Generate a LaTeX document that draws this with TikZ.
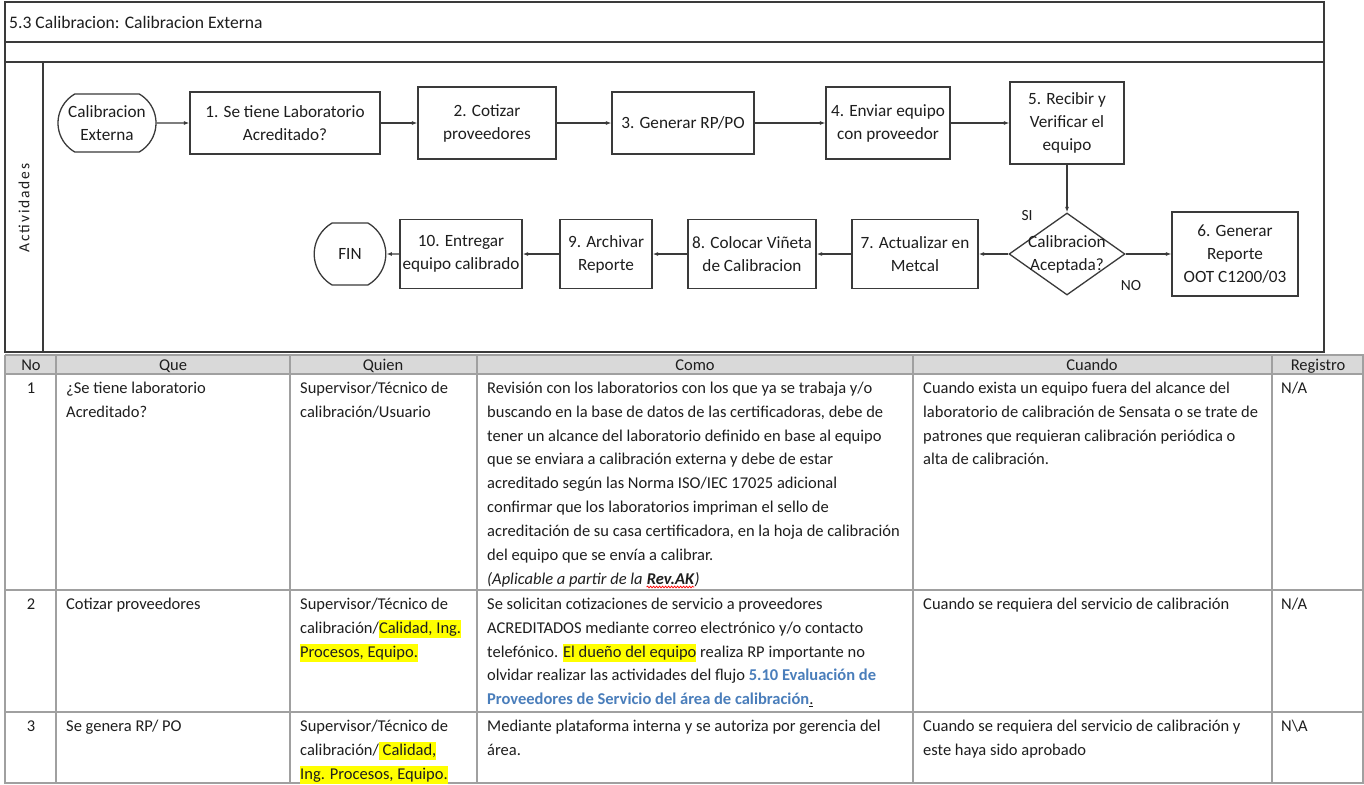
\documentclass[tikz,border=0pt]{standalone}
\usepackage{fontspec}
\setmainfont{Carlito}
\usetikzlibrary{shapes.geometric,shapes.misc,arrows.meta,decorations.pathmorphing,calc}
\definecolor{frame}{HTML}{3A3A3A}
\definecolor{gridc}{HTML}{A0A0A0}
\definecolor{head}{HTML}{D9D9D9}
\definecolor{hly}{HTML}{FFFF00}
\definecolor{linkblue}{HTML}{4A7EBB}
\definecolor{ink}{HTML}{1E1E1E}
\newcommand\tabfont{\fontsize{16.5}{23.9}\selectfont}
\newcommand\boxfont{\fontsize{17.2}{23}\selectfont}
\newcommand\fst{\rule{0pt}{13pt}}
\newcommand\hl[1]{{\setlength{\fboxsep}{0pt}\colorbox{hly}{\rule[-4.5pt]{0pt}{17.5pt}#1}}}
\begin{document}
\begin{tikzpicture}[x=1pt,y=-1pt,
  box/.style={draw=frame, line width=1.3pt, fill=white, align=center, font=\boxfont, text=ink, inner sep=2pt},
  term/.style={draw=frame, line width=1.3pt, fill=white, rounded rectangle, rounded rectangle arc length=120, inner sep=0pt},
  ttext/.style={align=center, font=\boxfont, text=ink, inner sep=0pt},
  conn/.style={draw=frame, line width=1.2pt, -{Latex[length=5.5pt,width=4pt]}},
  cell/.style={anchor=north west, inner sep=0pt, align=left, font=\tabfont, text=ink},
  cellc/.style={anchor=base, inner sep=0pt, font=\tabfont, text=ink},
  lane/.style={draw=frame, line width=2pt},
  gridl/.style={draw=gridc, line width=1.3pt}
]
\useasboundingbox (0,0) rectangle (1364,784);
\fill[white] (0,0) rectangle (1364,784);

% ---------- lane frame ----------
\draw[lane] (5,2) rectangle (1324,352);
\draw[lane] (5,42) -- (1324,42);
\draw[lane] (5,62) -- (1324,62);
\draw[lane] (43,62) -- (43,352);
\node[anchor=west, inner sep=0pt, font=\fontsize{17.6}{20}\selectfont, text=ink] (title) at (9,22) {5.3 Calibracion: Calibracion Externa};
\node[rotate=90, inner sep=0pt, font=\fontsize{15.5}{18}\selectfont\addfontfeature{LetterSpace=12}, text=ink] (act) at (24,208) {Actividades};

% ---------- flowchart ----------
\node[term, minimum width=98pt, minimum height=58pt] (start) at (107,123) {};
\node[ttext] (startt) at (start.center) {Calibracion\\Externa};
\node[box, minimum width=190pt, minimum height=62pt] (b1) at (285,123) {1. Se tiene Laboratorio\\Acreditado?};
\node[box, minimum width=138pt, minimum height=72pt] (b2) at (487,123) {2. Cotizar\\proveedores};
\node[box, minimum width=142pt, minimum height=62pt] (b3) at (683,123) {3. Generar RP/PO};
\node[box, minimum width=124pt, minimum height=72pt] (b4) at (888,123) {4. Enviar equipo\\con proveedor};
\node[box, minimum width=114pt, minimum height=82pt] (b5) at (1067,123) {5. Recibir y\\Verificar el\\equipo};
\node[diamond, draw=frame, line width=1.3pt, fill=white, minimum width=116pt, minimum height=82pt, inner sep=0pt] (d) at (1067,254) {};
\node[ttext] (dt) at (d.center) {Calibracion\\Aceptada?};
\node[box, minimum width=126pt, minimum height=84pt] (b6) at (1235,254) {6. Generar\\Reporte\\OOT C1200/03};
\node[box, minimum width=126pt, minimum height=69pt] (b7) at (915,254) {7. Actualizar en\\Metcal};
\node[box, minimum width=128pt, minimum height=69pt] (b8) at (752,254) {8. Colocar Viñeta\\de Calibracion};
\node[box, minimum width=92pt, minimum height=69pt] (b9) at (606,254) {9. Archivar\\Reporte};
\node[box, minimum width=122pt, minimum height=69pt] (b10) at (461,254) {10. Entregar\\equipo calibrado};
\node[term, minimum width=64pt, minimum height=62pt] (fin) at (350,254) {};
\node[ttext] (fint) at (fin.center) {FIN};
\node[font=\fontsize{15.5}{18}\selectfont, text=ink, inner sep=0pt] (si) at (1027,216) {SI};
\node[font=\fontsize{15.5}{18}\selectfont, text=ink, inner sep=0pt] (no) at (1131,286) {NO};

\draw[conn] (start) -- (b1);
\draw[conn] (b1) -- (b2);
\draw[conn] (b2) -- (b3);
\draw[conn] (b3) -- (b4);
\draw[conn] (b4) -- (b5);
\draw[conn] (b5) -- (d);
\draw[conn] (d) -- (b6);
\draw[conn] (d) -- (b7);
\draw[conn] (b7) -- (b8);
\draw[conn] (b8) -- (b9);
\draw[conn] (b9) -- (b10);
\draw[conn] (b10) -- (fin);

% ---------- table ----------
\fill[head] (5,355) rectangle (1364,374);
\foreach \yy in {355,374,590,712,783} \draw[gridl] (5,\yy) -- (1364,\yy);
\foreach \xx in {5,56,290,477,913,1272,1363} \draw[gridl] (\xx,355) -- (\xx,784);

\node[cellc] (hno) at (31,370) {No};
\node[cellc] (hque) at (173,370) {Que};
\node[cellc] (hquien) at (383,370) {Quien};
\node[cellc] (hcomo) at (695,370) {Como};
\node[cellc] (hcuando) at (1092,370) {Cuando};
\node[cellc] (hreg) at (1318,370) {Registro};

% row 1
\node[cellc] (n1) at (31,393) {1};
\node[cell] (que1) at (66,380) {\fst¿Se tiene laboratorio\\Acreditado?};
\node[cell] (quien1) at (300,380) {\fst Supervisor/Técnico de\\calibración/Usuario};
\node[cell] (como1) at (487,380) {\fst Revisión con los laboratorios con los que ya se trabaja y/o\\buscando en la base de datos de las certificadoras, debe de\\tener un alcance del laboratorio definido en base al equipo\\que se enviara a calibración externa y debe de estar\\acreditado según las Norma ISO/IEC 17025 adicional\\confirmar que los laboratorios impriman el sello de\\acreditación de su casa certificadora, en la hoja de calibración\\del equipo que se envía a calibrar.};
\node[cellc, anchor=base west, font=\tabfont\itshape] (ap) at (487,584) {(Aplicable a partir de la};
\node[cellc, anchor=base west, font=\tabfont\itshape\bfseries, xshift=3.7pt] (rev) at (ap.base east) {Rev.AK};
\node[cellc, anchor=base west, font=\tabfont\itshape] (apc) at (rev.base east) {)};
\draw[red, line width=0.7pt, decorate, decoration={snake, amplitude=0.9pt, segment length=3pt}] ($(rev.base west)+(0,3)$) -- ($(rev.base east)+(0,3)$);
\node[cell] (cuando1) at (923,380) {\fst Cuando exista un equipo fuera del alcance del\\laboratorio de calibración de Sensata o se trate de\\patrones que requieran calibración periódica o\\alta de calibración.};
\node[cell] (reg1) at (1281,380) {\fst N/A};

% row 2
\node[cellc] (n2) at (31,609) {2};
\node[cell] (que2) at (66,596) {\fst Cotizar proveedores};
\node[cell] (quien2) at (300,596) {\fst Supervisor/Técnico de\\calibración/\hl{Calidad, Ing.}\\\hl{Procesos, Equipo.}};
\node[cell] (como2) at (487,596) {\fst Se solicitan cotizaciones de servicio a proveedores\\ACREDITADOS mediante correo electrónico y/o contacto\\telefónico. \hl{El dueño del equipo} realiza RP importante no\\olvidar realizar las actividades del flujo {\bfseries\color{linkblue}5.10 Evaluación de}\\{\bfseries\color{linkblue}Proveedores de Servicio del área de calibración}\underline{.}};
\node[cell] (cuando2) at (923,596) {\fst Cuando se requiera del servicio de calibración};
\node[cell] (reg2) at (1281,596) {\fst N/A};

% row 3
\node[cellc] (n3) at (31,731) {3};
\node[cell] (que3) at (66,718) {\fst Se genera RP/ PO};
\node[cell] (quien3) at (300,718) {\fst Supervisor/Técnico de\\calibración/\hl{ Calidad,}\\\hl{Ing. Procesos, Equipo.}};
\node[cell] (como3) at (487,718) {\fst Mediante plataforma interna y se autoriza por gerencia del\\área.};
\node[cell] (cuando3) at (923,718) {\fst Cuando se requiera del servicio de calibración y\\este haya sido aprobado};
\node[cell] (reg3) at (1281,718) {\fst N\textbackslash A};
\end{tikzpicture}
\end{document}
